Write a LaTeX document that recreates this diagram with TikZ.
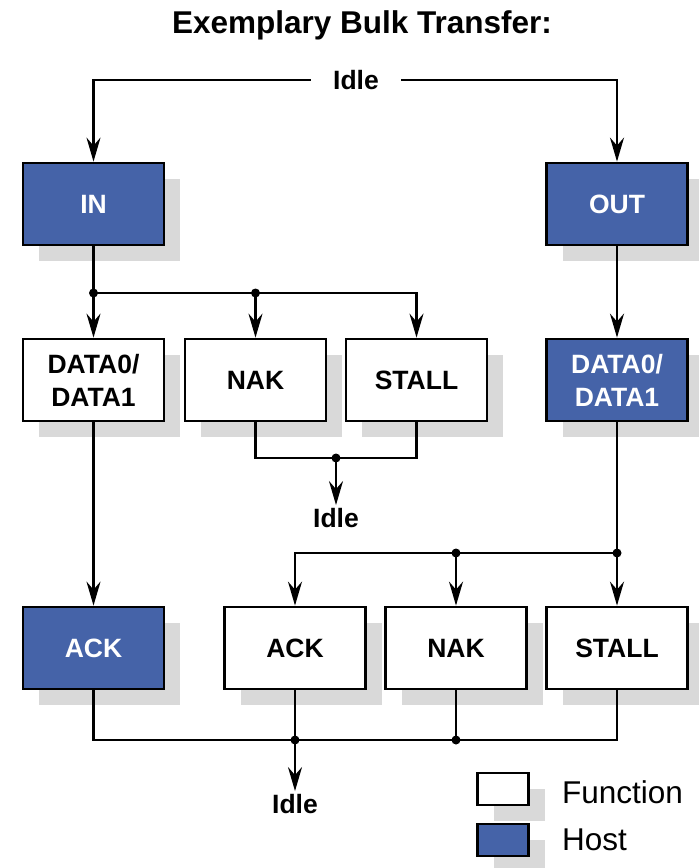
\documentclass[tikz,border=0pt]{standalone}
\usepackage{fontspec}
\setmainfont{Liberation Sans}
\usetikzlibrary{arrows.meta,shadows,positioning}
\definecolor{hostblue}{HTML}{4563A8}
\definecolor{shadegray}{HTML}{D9D9D9}
\tikzset{
  blk/.style={draw=black, line width=2.8pt, minimum width=141pt, minimum height=82pt,
    inner sep=0pt, align=center, font=\fontsize{26.5}{33}\selectfont\bfseries,
    general shadow={fill=shadegray, shadow xshift=16pt, shadow yshift=-16pt}},
  func/.style={blk, fill=white},
  host/.style={blk, fill=hostblue, text=white},
  keybox/.style={blk, minimum width=51pt, minimum height=32pt},
  wire/.style={line width=2.4pt},
  arr/.style={wire, -{Stealth[length=24pt,width=14pt,inset=8pt]}},
  dot/.style={circle, fill=black, inner sep=0pt, minimum size=9pt},
  idle/.style={font=\fontsize{26.5}{33}\selectfont\bfseries, inner sep=3pt},
}

\begin{document}
\begin{tikzpicture}[x=1pt, y=-1pt]
  \useasboundingbox (0,0) rectangle (699,868);

  \node[font=\fontsize{31.5}{38}\selectfont\bfseries] (title) at (362,25) {Exemplary Bulk Transfer:};
  \node[idle, inner xsep=22pt] (idle0) at (356,80) {Idle};

  % boxes
  \node[host] (in)  at (93.5,204) {IN};
  \node[host] (out) at (617,204)  {OUT};

  \node[func] (dfun)   at (93.5,380)  {DATA0/\\DATA1};
  \node[func] (nakf)   at (255.5,380) {NAK};
  \node[func] (stallf) at (416.5,380) {STALL};
  \node[host] (dhost)  at (617,380)   {DATA0/\\DATA1};

  \node[host] (ackh)   at (93.5,648) {ACK};
  \node[func] (ackf)   at (295,648)  {ACK};
  \node[func] (nakh)   at (456,648)  {NAK};
  \node[func] (stallh) at (617,648)  {STALL};

  \node[idle] (idle1) at (336,518) {Idle};
  \node[idle] (idle2) at (295,804) {Idle};

  % junctions
  \coordinate (j1) at (93.5,293);
  \coordinate (j2) at (255.5,293);
  \coordinate (j3) at (336,458);
  \coordinate (j4) at (617,553);
  \coordinate (j5) at (456,553);
  \coordinate (j6) at (295,740);
  \coordinate (j7) at (456,740);

  % connectors
  \draw[arr] (idle0.west) -| (in);
  \draw[arr] (idle0.east) -| (out);

  \draw[wire] (in) -- (j1);
  \draw[arr] (j1) -- (dfun);
  \draw[arr] (j1) -| (stallf);
  \draw[arr] (j2) -- (nakf);
  \draw[wire] (nakf) |- (j3) -| (stallf);
  \draw[arr] (j3) -- (idle1);

  \draw[arr] (out) -- (dhost);
  \draw[wire] (dhost) -- (j4);
  \draw[arr] (j4) -| (ackf);
  \draw[arr] (j5) -- (nakh);
  \draw[arr] (j4) -- (stallh);

  \draw[arr] (dfun) -- (ackh);
  \draw[wire] (ackh) |- (j6) -- (j7) -| (stallh);
  \draw[wire] (ackf) -- (j6);
  \draw[wire] (nakh) -- (j7);
  \draw[arr] (j6) -- (idle2);

  \foreach \j in {j1,j2,j3,j4,j5,j6,j7}
    \node[dot] at (\j) {};

  % legend
  \node[keybox, fill=white] (keyf) at (503,789) {};
  \node[keybox, fill=hostblue] (keyh) at (503,840) {};
  \node[anchor=west, font=\fontsize{31.5}{38}\selectfont, inner sep=0pt] (keyft) at (562,792) {Function};
  \node[anchor=west, font=\fontsize{31.5}{38}\selectfont, inner sep=0pt] (keyht) at (562,840) {Host};
\end{tikzpicture}
\end{document}
